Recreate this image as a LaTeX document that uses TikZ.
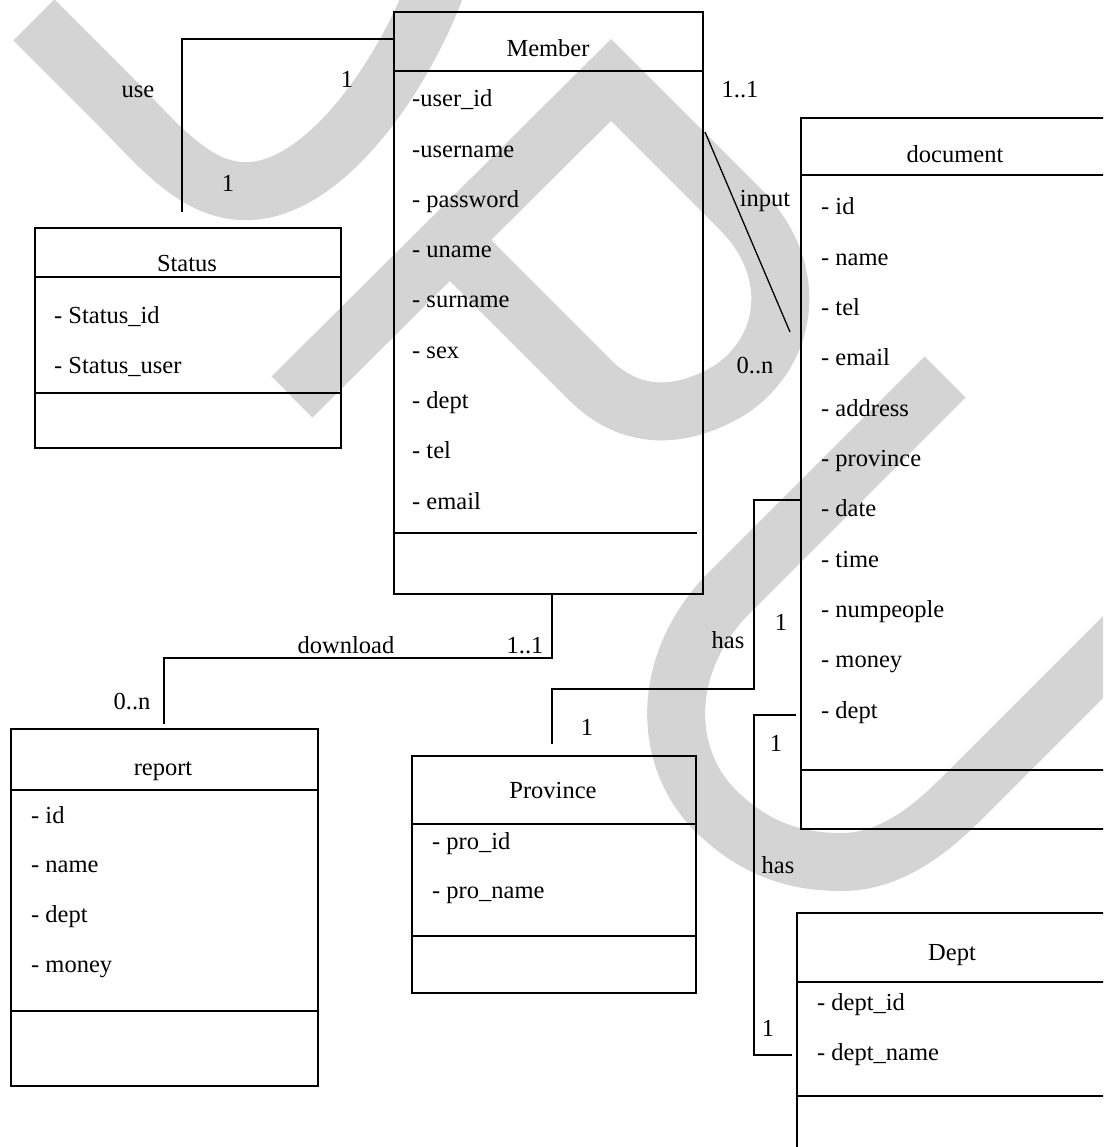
\documentclass[tikz,border=0pt]{standalone}
\usepackage{fontspec}
\setmainfont{Liberation Serif}
\definecolor{wmgray}{RGB}{212,212,212}
\tikzset{
  classbox/.style={draw, line width=2pt, inner sep=0pt, anchor=north west},
  classline/.style={line width=2pt},
  conn/.style={line width=1.8pt},
  boxtitle/.style={anchor=base, inner sep=0pt},
  attr/.style={anchor=base west, inner sep=0pt},
  mult/.style={anchor=base, inner sep=0pt},
  wmark/.style={draw=wmgray, line width=58pt, line cap=butt, line join=miter}
}
\begin{document}
\begin{tikzpicture}[x=1pt, y=-1pt, font=\fontsize{24.5}{29}\selectfont]
\useasboundingbox (0,0) rectangle (1103,1147);
\clip (0,0) rectangle (1103,1147);
% watermark behind the diagram
\draw[wmark] (34,20) -- (110,96) .. controls (160,146) and (200,200) .. (260,190) .. controls (330,178) and (400,80) .. (435,-10);
\draw[wmark] (292,397) -- (611,80) -- (740,209) .. controls (800,269) and (790,350) .. (730,390) .. controls (680,420) and (630,420) .. (590,380) -- (450,240);
\draw[wmark] (945,377) -- (730,592) .. controls (660,662) and (660,760) .. (720,815) .. controls (760,852) and (800,862) .. (842,862) .. controls (890,862) and (930,830) .. (960,800) -- (1140,620);

% classes
\node[classbox, minimum width=309pt, minimum height=582pt] (member) at (393,11) {};
\node[classbox, minimum width=306pt, minimum height=220pt] (status) at (34,227) {};
\node[classbox, minimum width=330pt, minimum height=711pt] (document) at (800,117) {};
\node[classbox, minimum width=307pt, minimum height=357pt] (report) at (10,728) {};
\node[classbox, minimum width=284pt, minimum height=237pt] (province) at (411,755) {};
\node[classbox, minimum width=330pt, minimum height=260pt] (dept) at (796,912) {};

\draw[classline] (member.west |- 0,71) -- (member.east |- 0,71);
\draw[classline] (member.west |- 0,533) -- (697,533);
\draw[classline] (status.west |- 0,277) -- (status.east |- 0,277);
\draw[classline] (status.west |- 0,393) -- (status.east |- 0,393);
\draw[classline] (document.west |- 0,175) -- (document.east |- 0,175);
\draw[classline] (document.west |- 0,770) -- (document.east |- 0,770);
\draw[classline] (report.west |- 0,790) -- (report.east |- 0,790);
\draw[classline] (report.west |- 0,1011) -- (319,1011);
\draw[classline] (province.west |- 0,824) -- (province.east |- 0,824);
\draw[classline] (province.west |- 0,936) -- (697,936);
\draw[classline] (dept.west |- 0,982) -- (dept.east |- 0,982);
\draw[classline] (dept.west |- 0,1096) -- (dept.east |- 0,1096);

\node[boxtitle] (membertitle) at (548,57) {Member};
\node[boxtitle] (statustitle) at (187,272) {Status};
\node[boxtitle] (documenttitle) at (955,163) {document};
\node[boxtitle] (reporttitle) at (163,775) {report};
\node[boxtitle] (provincetitle) at (553,798) {Province};
\node[boxtitle] (depttitle) at (952,960) {Dept};

\foreach \a [count=\i from 0] in {-user\_id, -username, - password, - uname, - surname, - sex, - dept, - tel, - email}
  \node[attr] (memberattr\i) at (412, 107+50.25*\i) {\a};
\foreach \a [count=\i from 0] in {- Status\_id, - Status\_user}
  \node[attr] (statusattr\i) at (54, 323+50*\i) {\a};
\foreach \a [count=\i from 0] in {- id, - name, - tel, - email, - address, - province, - date, - time, - numpeople, - money, - dept}
  \node[attr] (documentattr\i) at (821, 215+50.3*\i) {\a};
\foreach \a [count=\i from 0] in {- id, - name, - dept, - money}
  \node[attr] (reportattr\i) at (31, 823+49.7*\i) {\a};
\foreach \a [count=\i from 0] in {- pro\_id, - pro\_name}
  \node[attr] (provinceattr\i) at (432, 849+49*\i) {\a};
\foreach \a [count=\i from 0] in {- dept\_id, - dept\_name}
  \node[attr] (deptattr\i) at (817, 1010+50*\i) {\a};

% connector end points
\coordinate (useS) at (182,212);
\coordinate (useM) at (member.west |- 0,39);
\coordinate (dlM) at (member.south -| 552,0);
\coordinate (dlR) at (164,724);
\coordinate (inM) at (705,132);
\coordinate (inD) at (790,332);
\coordinate (hasP) at (552,744);
\coordinate (hasD) at (document.west |- 0,500);
\coordinate (hasD2) at (796,715);
\coordinate (hasT) at (792,1055);

\draw[conn] (useS) -- (182,39) -- (useM);
\draw[conn] (dlM) -- (552,658) -- (164,658) -- (dlR);
\draw[line width=1.3pt] (inM) -- (inD);
\draw[conn] (hasP) -- (552,689) -- (754,689) -- (754,500) -- (hasD);
\draw[conn] (hasD2) -- (754,715) -- (754,1055) -- (hasT);

% labels
\node[mult] (uselbl) at (138,98) {use};
\node[mult] (useone) at (347,88) {1};
\node[mult] (usetwo) at (228,192) {1};
\node[mult] (inone) at (740,98) {1..1};
\node[mult] (inlbl) at (765,207) {input};
\node[mult] (inmany) at (755,373) {0..n};
\node[mult] (dllbl) at (346,653) {download};
\node[mult] (dlone) at (525,653) {1..1};
\node[mult] (dlmany) at (132,709) {0..n};
\node[mult] (haslbl) at (728,648) {has};
\node[mult] (hasone) at (781,630) {1};
\node[mult] (hastwo) at (587,735) {1};
\node[mult] (deptone) at (776,751) {1};
\node[mult] (deptlbl) at (778,873) {has};
\node[mult] (depttwo) at (768,1036) {1};
\end{tikzpicture}
\end{document}
